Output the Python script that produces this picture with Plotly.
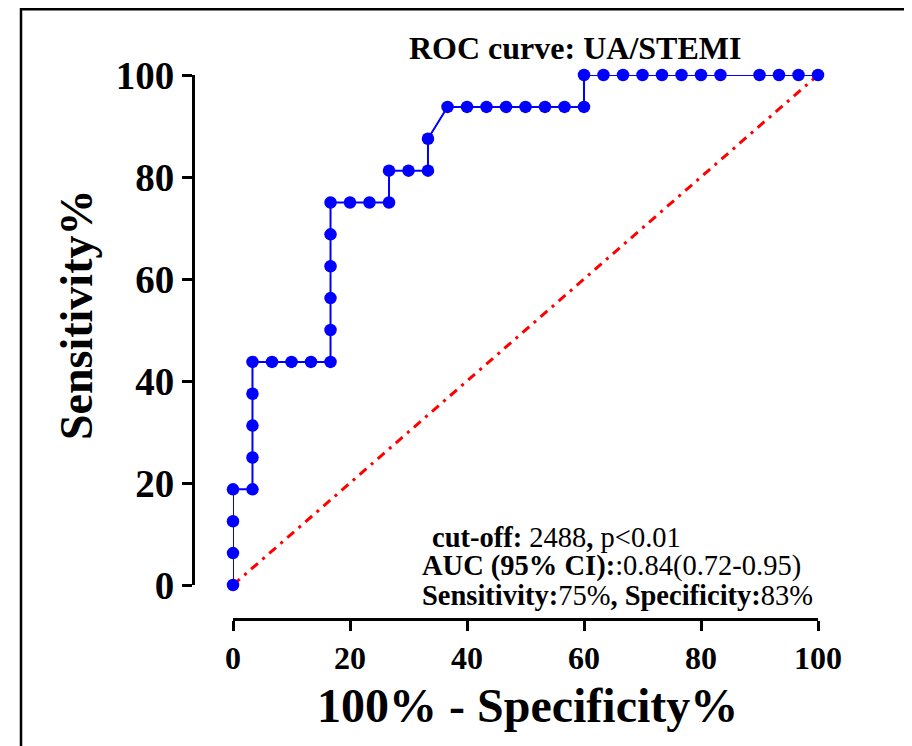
import plotly.graph_objects as go

W, H = 912, 746
OFF = 8  # page body margin of the rendered html

# ROC points (100% - Specificity%, Sensitivity%)
fpr = [0, 0, 0, 0, 3.33, 3.33, 3.33, 3.33, 3.33, 6.67, 10, 13.33, 16.67,
       16.67, 16.67, 16.67, 16.67, 16.67, 20, 23.33, 26.67, 26.67, 30, 33.33,
       33.33, 36.67, 40, 43.33, 46.67, 50, 53.33, 56.67, 60, 60, 63.33, 66.67,
       70, 73.33, 76.67, 80, 83.33, 90, 93.33, 96.67, 100]
tpr = [0, 6.25, 12.5, 18.75, 18.75, 25, 31.25, 37.5, 43.75, 43.75, 43.75,
       43.75, 43.75, 50, 56.25, 62.5, 68.75, 75, 75, 75, 75, 81.25, 81.25,
       81.25, 87.5, 93.75, 93.75, 93.75, 93.75, 93.75, 93.75, 93.75, 93.75,
       100, 100, 100, 100, 100, 100, 100, 100, 100, 100, 100, 100]
ref_x = [0, 100]
ref_y = [0, 100]
tick_vals = [0, 20, 40, 60, 80, 100]
tick_text = ["0", "20", "40", "60", "80", "100"]

title_text = "<b>ROC curve: UA/STEMI</b>"
x_title = "<b>100% - Specificity%</b>"
y_title = "<b>Sensitivity%</b>"
note_lines = [
    "<b>cut-off:</b> 2488<b>,</b> p&lt;0.01",
    "<b>AUC (95% CI):</b>:0.84(0.72-0.95)",
    "<b>Sensitivity:</b>75%<b>,</b> <b>Specificity:</b>83%",
]

SERIF = "Liberation Serif, Times New Roman, serif"


def fx(px):
    return (px - OFF) / W


def fy(py):
    return 1 - (py - OFF) / H


fig = go.Figure()
fig.add_trace(go.Scatter(x=ref_x, y=ref_y, mode="lines",
                         line=dict(color="#ff0000", width=3, dash="9px,6px,3px,6px"),
                         cliponaxis=False, showlegend=False, hoverinfo="skip"))
fig.add_trace(go.Scatter(x=fpr, y=tpr, mode="lines+markers",
                         line=dict(color="#0000ff", width=2),
                         marker=dict(color="#0000ff", size=12.5, symbol="circle"),
                         cliponaxis=False, showlegend=False))

axis_common = dict(
    range=[0, 100], tickmode="array", tickvals=tick_vals, ticktext=tick_text,
    showline=True, linecolor="black", linewidth=3, ticks="outside",
    ticklen=10, tickwidth=3, tickcolor="black", showgrid=False,
    zeroline=False, anchor="free", automargin=False,
)

fig.update_layout(
    width=W, height=H, margin=dict(l=0, r=0, t=0, b=0),
    paper_bgcolor="white", plot_bgcolor="white",
    xaxis=dict(domain=[fx(233), fx(818)], position=fy(619),
               tickfont=dict(family=SERIF, size=32, color="black", weight="bold"),
               **axis_common),
    yaxis=dict(domain=[fy(585), fy(75)], position=fx(193),
               tickfont=dict(family=SERIF, size=39, color="black", weight="bold"),
               **axis_common),
    font=dict(family=SERIF, color="black"),
)

annos = [
    dict(text=title_text, x=fx(575), y=fy(48), size=32),
    dict(text=x_title, x=fx(527), y=fy(705), size=48),
]
for a in annos:
    fig.add_annotation(x=a["x"], y=a["y"], xref="paper", yref="paper",
                       text=a["text"], showarrow=False, xanchor="center",
                       yanchor="middle",
                       font=dict(family=SERIF, size=a["size"], color="black"))

fig.add_annotation(x=fx(77), y=fy(315), xref="paper", yref="paper",
                   text=y_title, showarrow=False, textangle=-90,
                   xanchor="center", yanchor="middle",
                   font=dict(family=SERIF, size=46, color="black"))

note_pos = [(430, 537), (420, 566), (420, 595)]
for (px, py), line in zip(note_pos, note_lines):
    fig.add_annotation(x=fx(px), y=fy(py), xref="paper", yref="paper",
                       text=line, showarrow=False, xanchor="left",
                       yanchor="middle", align="left",
                       font=dict(family=SERIF, size=28.5, color="black"))

# outer frame (left and top edges)
fig.add_shape(type="line", xref="paper", yref="paper",
              x0=fx(21), x1=fx(21), y0=0, y1=fy(8),
              line=dict(color="black", width=2.5))
fig.add_shape(type="line", xref="paper", yref="paper",
              x0=fx(20), x1=1, y0=fy(9.3), y1=fy(9.3),
              line=dict(color="black", width=2.6))

fig.write_html("out.html")
